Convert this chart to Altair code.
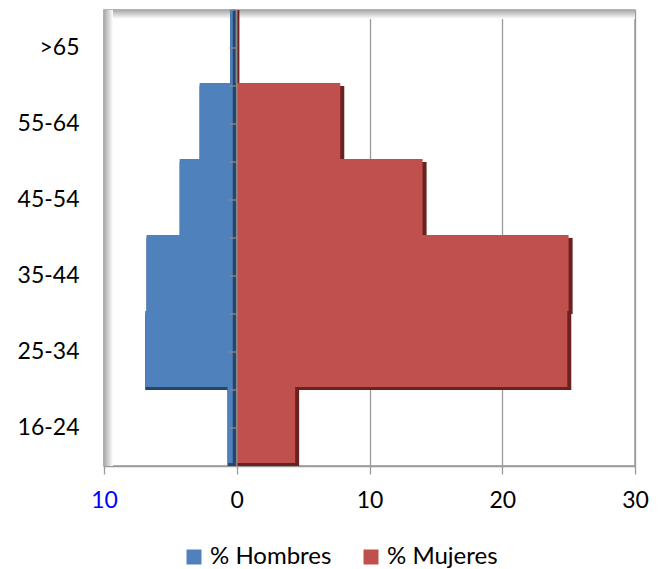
import altair as alt
import pandas as pd

categorias = [">65", "55-64", "45-54", "35-44", "25-34", "16-24"]
hombres = [0.5, 2.8, 4.3, 6.8, 6.9, 0.7]
mujeres = [0.2, 8.1, 14.3, 25.3, 25.2, 4.7]
series = ["% Hombres", "% Mujeres"]
colores = ["#4F81BD", "#C0504D"]
colores_oscuros = ["#27456B", "#6A2120"]
ticks_x = [-10, 0, 10, 20, 30]

rows = []
for c, h, m in zip(categorias, hombres, mujeres):
    rows.append({"grupo": c, "serie": series[0], "x0": -h, "x1": 0})
    rows.append({"grupo": c, "serie": series[1], "x0": 0, "x1": m})
df = pd.DataFrame(rows)
df_cat = pd.DataFrame({"grupo": categorias})

W, H = 531, 456
FONT = "Lato"

xscale = alt.Scale(domain=[-10, 30], nice=False, zero=False)
yscale = alt.Scale(domain=categorias, paddingInner=0, paddingOuter=0)

x_axis = alt.Axis(
    values=ticks_x,
    labelExpr="datum.value < 0 ? format(-datum.value, 'd') : format(datum.value, 'd')",
    labelColor={"condition": {"test": "datum.value < 0", "value": "#0000FF"}, "value": "#000000"},
    grid=True, gridColor="#9a9a9a", gridWidth=1.3,
    domainColor="#9a9a9a", domainWidth=1.3,
    tickColor="#9a9a9a", tickWidth=1.3, tickSize=8,
    labelFontSize=23, labelFont=FONT, labelPadding=15, labelFlush=False,
    title=None,
)
y_axis = alt.Axis(
    labelFontSize=23, labelFont=FONT, labelPadding=25, labelColor="#000000",
    ticks=False, domain=False, grid=False, title=None,
)

decor = alt.Data(values=[{"a": 1}])

top_shadow = alt.Chart(decor).mark_rect(
    color=alt.Gradient(gradient="linear", x1=0, y1=0, x2=0, y2=1,
                       stops=[alt.GradientStop(offset=0, color="#a8a8a8"),
                              alt.GradientStop(offset=1, color="#ffffff")])
).encode(x=alt.value(0), x2=alt.value(W), y=alt.value(0), y2=alt.value(9))

left_shadow = alt.Chart(decor).mark_rect(
    color=alt.Gradient(gradient="linear", x1=0, y1=0, x2=1, y2=0,
                       stops=[alt.GradientStop(offset=0, color="#a8a8a8"),
                              alt.GradientStop(offset=1, color="#ffffff")])
).encode(x=alt.value(0), x2=alt.value(9), y=alt.value(0), y2=alt.value(H))

base = alt.Chart(df)

dark = base.mark_bar(clip=True).encode(
    x=alt.X("x0:Q", scale=xscale, axis=x_axis),
    x2="x1:Q",
    y=alt.Y("grupo:N", scale=yscale, sort=categorias, axis=y_axis),
    fill=alt.condition(alt.datum.serie == series[0],
                       alt.value(colores_oscuros[0]), alt.value(colores_oscuros[1])),
)

main = base.mark_bar(clip=True, x2Offset=-4, yOffset=-3).encode(
    x=alt.X("x0:Q", scale=xscale),
    x2="x1:Q",
    y=alt.Y("grupo:N", scale=yscale, sort=categorias),
    color=alt.Color(
        "serie:N",
        scale=alt.Scale(domain=series, range=colores),
        legend=alt.Legend(
            title=None, orient="none", direction="horizontal",
            legendX=78, legendY=535, symbolType="square", symbolSize=225,
            symbolStrokeWidth=0, labelFontSize=24, labelFont=FONT,
            labelColor="#000000", columnPadding=27, symbolOffset=0, padding=0,
            labelOffset=4,
        ),
    ),
)

y_line = alt.Chart(decor).mark_rule(color="#8a8a8a", strokeWidth=1.5).encode(
    x=alt.datum(0, scale=xscale)
)

tick_mid = alt.Chart(df_cat).mark_rule(color="#8a8a8a", strokeWidth=1.3).encode(
    y=alt.Y("grupo:N", scale=yscale, sort=categorias, bandPosition=0.5),
    x=alt.datum(-0.55),
    x2=alt.datum(0),
)
tick_edge = alt.Chart(df_cat).mark_rule(color="#8a8a8a", strokeWidth=1.3).encode(
    y=alt.Y("grupo:N", scale=yscale, sort=categorias, bandPosition=0),
    x=alt.datum(-0.55),
    x2=alt.datum(0),
)

chart = alt.layer(
    top_shadow, left_shadow, dark, main, y_line, tick_mid, tick_edge
).properties(
    width=W, height=H,
    padding={"left": 96, "top": 2, "right": 20, "bottom": 103},
    autosize=alt.AutoSizeParams(type="none"),
    background="#ffffff",
).configure_view(
    stroke="#9a9a9a", strokeWidth=1.5
).configure_axis(
    labelFont=FONT
)

chart.save("out.html", embed_options={"renderer": "svg", "actions": False})
